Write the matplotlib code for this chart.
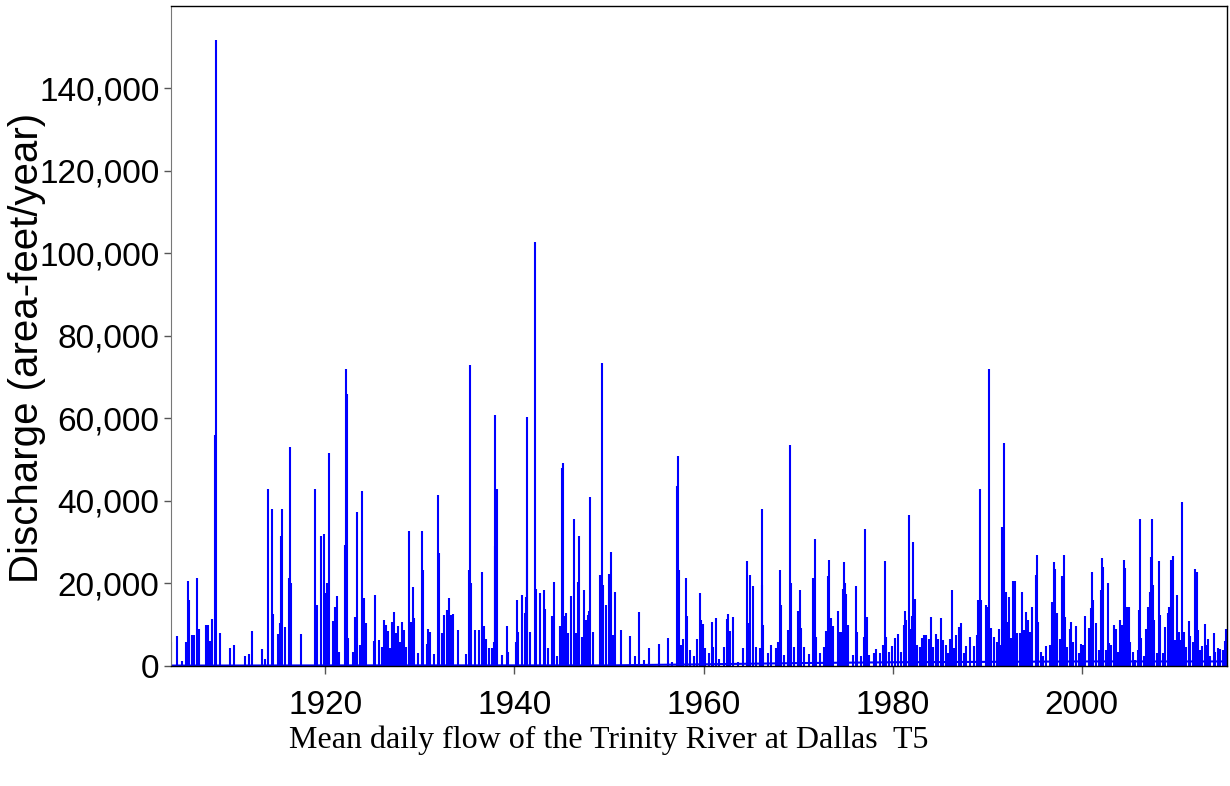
# Trinity River at Dallas - mean daily flow (spike chart)
import numpy as np
import matplotlib.pyplot as plt
from matplotlib import font_manager
from matplotlib.ticker import StrMethodFormatter

# ==========================
# Data
# ==========================
# flood events: decimal year and peak flow
event_year = [
    # 1903 - 1921
    1903.70, 1904.30, 1904.83, 1905.29, 1905.43, 1905.57, 1905.92, 1906.13, 1906.41, 1906.69,
    1907.40, 1907.61, 1907.82, 1908.03, 1908.31, 1908.42, 1908.88, 1909.97, 1910.29, 1911.55,
    1911.97, 1912.26, 1913.28, 1913.59, 1913.91, 1914.33, 1914.47, 1915.00, 1915.25, 1915.35,
    1915.42, 1915.71, 1916.13, 1916.30, 1916.41, 1917.40, 1918.87, 1919.12, 1919.58, 1919.82,
    1920.00, 1920.21, 1920.39, 1920.77, 1921.06, 1921.27, 1921.48,
    # 1922 - 1940
    1922.06, 1922.23, 1922.30, 1922.41, 1922.94, 1923.18, 1923.33, 1923.71, 1923.85, 1924.13,
    1924.28, 1925.19, 1925.26, 1925.72, 1925.96, 1926.25, 1926.46, 1926.67, 1926.88, 1927.09,
    1927.23, 1927.44, 1927.65, 1927.94, 1928.15, 1928.36, 1928.53, 1928.85, 1929.06, 1929.27,
    1929.34, 1929.84, 1930.26, 1930.33, 1930.75, 1930.86, 1931.10, 1931.46, 1931.95, 1932.02,
    1932.37, 1932.58, 1932.86, 1933.08, 1933.29, 1933.50, 1934.03, 1934.90, 1935.19, 1935.26,
    1935.40, 1935.82, 1936.24, 1936.60, 1936.74, 1936.95, 1937.30, 1937.58, 1937.83, 1937.97,
    1938.00, 1938.11, 1938.64, 1939.20, 1939.34, 1940.19,
    # 1940 - 1958
    1940.29, 1940.43, 1940.78, 1941.07, 1941.24, 1941.31, 1941.38, 1941.63, 1942.19, 1942.33,
    1942.69, 1943.11, 1943.25, 1943.53, 1944.02, 1944.20, 1944.52, 1944.83, 1945.04, 1945.11,
    1945.29, 1945.43, 1945.64, 1946.00, 1946.28, 1946.56, 1946.70, 1946.84, 1947.12, 1947.33,
    1947.54, 1947.75, 1947.89, 1948.04, 1948.32, 1949.02, 1949.16, 1949.27, 1949.37, 1949.72,
    1949.97, 1950.18, 1950.39, 1950.60, 1951.31, 1952.19, 1952.75, 1953.21, 1953.70, 1954.23,
    1955.25, 1956.20, 1956.70, 1957.15, 1957.26, 1957.36, 1957.61, 1957.79, 1958.14, 1958.24,
    1958.60,
    # 1958 - 1977
    1958.95, 1959.33, 1959.62, 1959.69, 1959.90, 1960.18, 1960.53, 1960.88, 1961.02, 1961.30,
    1961.66, 1962.15, 1962.50, 1962.57, 1962.78, 1963.17, 1963.70, 1964.19, 1964.58, 1964.76,
    1964.97, 1965.21, 1965.60, 1965.95, 1966.16, 1966.23, 1966.34, 1966.80, 1967.15, 1967.64,
    1967.85, 1968.06, 1968.20, 1968.56, 1968.98, 1969.19, 1969.26, 1969.61, 1969.96, 1970.18,
    1970.32, 1970.60, 1971.16, 1971.58, 1971.76, 1971.93, 1972.36, 1972.71, 1972.92, 1973.13,
    1973.27, 1973.48, 1973.70, 1974.19, 1974.40, 1974.61, 1974.72, 1974.89, 1974.96, 1975.10,
    1975.31, 1975.81, 1976.16, 1976.27, 1976.65, 1977.00,
    # 1977 - 1994
    1977.11, 1977.25, 1977.53, 1978.03, 1978.24, 1978.66, 1978.94, 1979.15, 1979.29, 1979.57,
    1979.93, 1980.21, 1980.60, 1980.91, 1981.19, 1981.30, 1981.44, 1981.69, 1981.79, 1982.07,
    1982.21, 1982.32, 1982.60, 1982.88, 1983.10, 1983.31, 1983.52, 1983.87, 1984.08, 1984.29,
    1984.64, 1984.78, 1985.17, 1985.35, 1985.63, 1985.84, 1986.05, 1986.26, 1986.47, 1986.75,
    1987.04, 1987.28, 1987.53, 1987.81, 1988.23, 1988.58, 1988.94, 1989.08, 1989.22, 1989.36,
    1989.85, 1990.06, 1990.20, 1990.42, 1990.77, 1991.05, 1991.23, 1991.40, 1991.61, 1991.72,
    1991.82, 1991.96, 1992.10, 1992.32, 1992.53, 1992.74, 1992.95, 1993.16, 1993.44, 1993.65,
    1993.87, 1994.15, 1994.36, 1994.57,
    # 1994 - 2005
    1994.79, 1995.18, 1995.32, 1995.42, 1995.70, 1995.95, 1996.23, 1996.66, 1996.87, 1997.08,
    1997.22, 1997.36, 1997.71, 1997.92, 1998.17, 1998.28, 1998.49, 1998.77, 1998.91, 1999.12,
    1999.37, 1999.68, 1999.89, 2000.18, 2000.39, 2000.74, 2000.95, 2001.09, 2001.23, 2001.51,
    2001.87, 2002.04, 2002.18, 2002.29, 2002.53, 2002.75, 2002.92, 2003.13, 2003.38, 2003.63,
    2003.80, 2004.05, 2004.26, 2004.47, 2004.61, 2004.82,
    # 2005 - 2015
    2004.96, 2005.10, 2005.42, 2005.66, 2005.95, 2006.09, 2006.19, 2006.30, 2006.58, 2006.76,
    2007.00, 2007.21, 2007.35, 2007.46, 2007.56, 2007.70, 2007.99, 2008.16, 2008.30, 2008.55,
    2008.83, 2009.11, 2009.25, 2009.40, 2009.61, 2009.82, 2010.03, 2010.24, 2010.45, 2010.63,
    2010.77, 2011.01, 2011.30, 2011.44, 2011.72, 2012.00, 2012.18, 2012.32, 2012.49, 2012.70,
    2012.99, 2013.13, 2013.34, 2013.55, 2013.97, 2014.11, 2014.46, 2014.68, 2014.92, 2015.17,
    2015.31,
]

event_flow = [
    # 1903 - 1921
    5800, 7300, 1300, 5800, 20700, 16000, 7500, 7500, 21300, 9000,
    10000, 10000, 6000, 11500, 56000, 151800, 8000, 4300, 5000, 2500,
    2800, 8600, 4000, 1800, 43000, 38000, 12700, 7800, 10400, 31500,
    38000, 9400, 21400, 53000, 20000, 7800, 43000, 14700, 31500, 32000,
    17600, 20000, 51600, 11000, 14300, 17000, 3500,
    # 1922 - 1940
    29300, 71900, 66000, 6700, 3500, 11800, 37400, 5000, 42300, 16600,
    10500, 6000, 17200, 6300, 4700, 11200, 10000, 8600, 4300, 10700,
    13200, 7900, 9700, 5900, 10700, 8700, 4700, 32800, 10700, 19200,
    11600, 3200, 32800, 23300, 5300, 8900, 8300, 3000, 41400, 27300,
    8000, 12400, 13600, 16400, 12400, 12600, 8700, 3000, 23300, 73000,
    20000, 8700, 8700, 22800, 9700, 6500, 4300, 4300, 5900, 29000,
    60800, 43000, 2700, 9700, 3500, 5900,
    # 1940 - 1958
    16000, 8300, 17200, 12800, 16800, 60300, 30500, 8300, 102900, 18600,
    17800, 18300, 13700, 4300, 12000, 20300, 2300, 9700, 47900, 49100,
    12000, 12800, 7900, 17000, 35600, 7900, 20400, 31500, 7100, 18400,
    11200, 12400, 13400, 41000, 8300, 22000, 14800, 73400, 19600, 14800,
    22300, 27700, 7500, 18000, 8700, 7300, 2400, 13200, 1500, 4300,
    5300, 6900, 1000, 43600, 51000, 23300, 5100, 6500, 21300, 12000,
    3900,
    # 1958 - 1977
    2400, 6500, 17800, 11200, 10200, 4300, 3100, 10700, 4500, 11600,
    1600, 4700, 11400, 12500, 8500, 11800, 1000, 4300, 25500, 10500,
    22000, 19400, 4500, 4300, 38000, 19600, 9900, 3100, 5100, 4300,
    5900, 23300, 14800, 2700, 8700, 53600, 20000, 4700, 13400, 18300,
    9100, 4700, 2900, 21300, 30700, 7100, 3100, 4700, 8600, 21700,
    25700, 11600, 9700, 13400, 8300, 8300, 18600, 25300, 20200, 17500,
    9900, 2700, 19400, 8300, 2300, 7100,
    # 1977 - 1994
    33100, 11800, 2700, 3100, 4000, 3100, 5100, 25500, 7100, 3500,
    4800, 6900, 7700, 3500, 9900, 13400, 11200, 36600, 8900, 12000,
    30000, 16200, 5100, 4700, 6900, 7500, 7500, 6500, 11800, 4700,
    7800, 6500, 11600, 6300, 5100, 3100, 6500, 18400, 4300, 7500,
    9500, 10500, 3200, 4800, 7100, 4800, 7500, 16000, 42800, 16000,
    14800, 14400, 72000, 9100, 7100, 5900, 8900, 5100, 33600, 19100,
    54100, 18000, 10700, 16800, 6700, 20700, 20700, 7900, 7900, 18000,
    8700, 13200, 11200, 8300,
    # 1994 - 2005
    14400, 22000, 26900, 10700, 3500, 2500, 4900, 5100, 15600, 25300,
    23400, 12800, 6500, 21800, 26900, 11800, 4700, 8900, 10700, 5900,
    9700, 3100, 5300, 5100, 12000, 9100, 14000, 22900, 16000, 10500,
    3900, 18400, 26100, 24100, 3900, 20000, 5500, 5100, 9900, 8900,
    3500, 11200, 9900, 25700, 23700, 14400,
    # 2005 - 2015
    14200, 5900, 3500, 1500, 3900, 13600, 35600, 6700, 2300, 8900,
    14400, 18000, 26300, 35600, 19600, 11200, 3100, 25500, 12400, 3100,
    9500, 12800, 14400, 25700, 26700, 6300, 17200, 8300, 6300, 39800,
    8300, 4700, 10900, 7300, 5900, 23400, 22900, 8700, 3900, 4800,
    10200, 5100, 6500, 2300, 8100, 3500, 4300, 4000, 3900, 6100,
    8900,
]

# low (base) flow level through the record
base_year = [1903.65, 1925, 1950, 1960, 1970, 1980, 1990, 2000, 2015.4]
base_flow = [100, 150, 150, 400, 700, 900, 1000, 1100, 1100]

# narrow sans font for the axis text (falls back if not installed)
installed = {f.name for f in font_manager.fontManager.ttflist}
if 'Liberation Sans Narrow' in installed:
    axis_font, axis_size, label_size = 'Liberation Sans Narrow', 28, 35
else:
    axis_font, axis_size, label_size = 'Liberation Sans', 24, 29

# ==============
# Create Chart
# ==============
fig = plt.figure(figsize=(12.3, 7.86), dpi=100)
ax = fig.add_axes([0.1388, 0.1527, 0.8590, 0.8397])

ax.vlines(event_year, 0, event_flow, color='blue', linewidth=1.5)
ax.plot(base_year, base_flow, color='blue', linewidth=1.5)

ax.set_xlim(1903.65, 2015.4)
ax.set_ylim(0, 160000)
ax.set_xticks(range(1920, 2001, 20))
ax.set_yticks(range(0, 140001, 20000))
ax.yaxis.set_major_formatter(StrMethodFormatter('{x:,.0f}'))

for lab in ax.get_xticklabels() + ax.get_yticklabels():
    lab.set_fontfamily(axis_font)
    lab.set_fontsize(axis_size)
ax.tick_params(axis='x', direction='out', length=6, pad=11, width=1, color='#555555')
ax.tick_params(axis='y', direction='out', length=5, pad=3, width=1, color='#555555')

ax.spines['left'].set_color('#777777')
for s in ['top', 'right', 'bottom']:
    ax.spines[s].set_color('black')
    ax.spines[s].set_linewidth(1)

ax.set_ylabel('Discharge (area-feet/year)', fontsize=label_size, family=axis_font, va='center')
ax.yaxis.set_label_coords(-0.136, 0.482)

fig.text(0.495, 0.058, 'Mean daily flow of the Trinity River at Dallas  T5',
         ha='center', va='center', fontsize=23, family='Liberation Serif')

plt.savefig('out.png', dpi=100)
